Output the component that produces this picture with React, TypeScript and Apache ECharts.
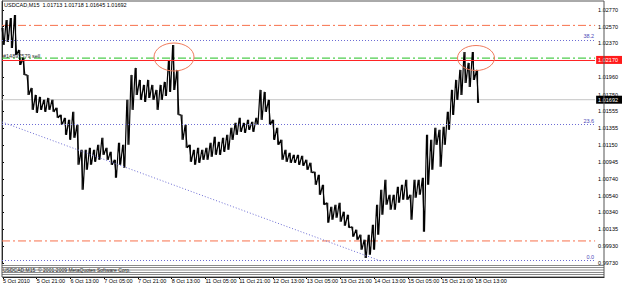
import React, { useEffect, useRef } from "react";
import * as echarts from "echarts";

// ---- data ----
const symbolTitle = "USDCAD,M15";
const lastBarOHLC = [1.01713, 1.01718, 1.01645, 1.01692];
const timeLabels = [
  "5 Oct 2010", "5 Oct 21:00", "6 Oct 13:00", "7 Oct 05:00", "7 Oct 21:00",
  "8 Oct 13:00", "11 Oct 05:00", "11 Oct 21:00", "12 Oct 13:00", "13 Oct 05:00",
  "13 Oct 21:00", "14 Oct 13:00", "15 Oct 05:00", "15 Oct 21:00", "18 Oct 13:00",
];
const barsPerLabel = 64; // M15 bars between time labels (16 h)
const barsPerSample = 8; // each high/low pair below covers 8 M15 bars
const highs = [
  1.02554, 1.0265, 1.02674, 1.0271, 1.0229, 1.02194, 1.0199, 1.01834, 1.0175, 1.01726,
  1.0169, 1.01714, 1.0169, 1.01594, 1.0151, 1.01474, 1.0145, 1.01546, 1.0139, 1.0109,
  1.0109, 1.01114, 1.0109, 1.0115, 1.01234, 1.01114, 1.01066, 1.0097, 1.01174, 1.0115,
  1.0169, 1.0199, 1.02074, 1.0193, 1.0187, 1.0193, 1.0187, 1.0181, 1.0187, 1.01906,
  1.0217, 1.0235, 1.0205, 1.0151, 1.0139, 1.0115, 1.0109, 1.01114, 1.0109, 1.01114,
  1.01174, 1.01246, 1.01186, 1.01234, 1.0127, 1.01354, 1.01414, 1.01474, 1.01414, 1.0145,
  1.01426, 1.01474, 1.0181, 1.01786, 1.0169, 1.0145, 1.01354, 1.0121, 1.0109, 1.01054,
  1.0103, 1.0103, 1.01018, 1.0097, 1.00934, 1.00826, 1.0079, 1.0067, 1.00454, 1.00406,
  1.0043, 1.00454, 1.00346, 1.0031, 1.00166, 1.0013, 1.0007, 1.0001, 1.0007, 1.0019,
  1.0043, 1.0061, 1.0073, 1.0055, 1.0055, 1.00646, 1.0067, 1.0073, 1.0055, 1.0073,
  1.0073, 1.00754, 1.0127, 1.0121, 1.01354, 1.0133, 1.01366, 1.01546, 1.0181, 1.0193,
  1.0205, 1.02266, 1.02134, 1.02266, 1.0205,
];
const lows = [
  1.0235, 1.02386, 1.02314, 1.0223, 1.0211, 1.0199, 1.0175, 1.0157, 1.01534, 1.0157,
  1.01546, 1.0157, 1.01546, 1.01474, 1.0139, 1.0127, 1.0121, 1.01234, 1.0091, 1.0061,
  1.0085, 1.0091, 1.00946, 1.0097, 1.0103, 1.0097, 1.0091, 1.00754, 1.0091, 1.00874,
  1.0115, 1.0157, 1.0175, 1.0169, 1.01666, 1.01714, 1.0169, 1.0157, 1.0169, 1.01738,
  1.01786, 1.0181, 1.0151, 1.0121, 1.01114, 1.00946, 1.0091, 1.00934, 1.0097, 1.0097,
  1.01006, 1.0103, 1.0103, 1.01066, 1.0109, 1.0121, 1.0127, 1.01306, 1.01294, 1.0133,
  1.01306, 1.0139, 1.0145, 1.01546, 1.0139, 1.0121, 1.0115, 1.0097, 1.00946, 1.00934,
  1.00934, 1.0091, 1.00898, 1.0085, 1.00814, 1.0067, 1.0055, 1.0043, 1.00214, 1.0025,
  1.00274, 1.00226, 1.00178, 1.00154, 1.00046, 1.0001, 0.9989, 0.9979, 0.9983, 0.9989,
  1.0007, 1.0031, 1.0043, 1.0037, 1.0037, 1.00454, 1.0049, 1.0049, 1.0025, 1.00514,
  1.0055, 1.00106, 1.0067, 1.0085, 1.0115, 1.00886, 1.0115, 1.0133, 1.0151, 1.0169,
  1.0175, 1.01894, 1.01846, 1.0193, 1.01654,
];
const priceTicks = [
  0.9973, 0.9993, 1.00135, 1.0034, 1.0054, 1.0074, 1.00945, 1.0115, 1.01355,
  1.01555, 1.0175, 1.0196, 1.0217, 1.0237, 1.0257, 1.0277,
];
const bidPrice = 1.01692;
const orderPrice = 1.0217;
const orderLabel = "#14897579 sell";
const stopLevel = 1.02192;
const dashDotLevels = [1.02585, 0.99995];
const fiboLow = 0.9976;
const fiboHigh = 1.0668;
const fiboLevels = [0.0, 23.6, 38.2];
const trendStart = [0, 1.01424];
const trendEnd = [728, 0.99754];
const yMin = 0.9973;
const yMax = 1.02878;
const xMax = 1140;

const FONT = "Liberation Sans";
const ORANGE = "#f7704c";

function markSeries(name: string, color: string, type: any, data: any[], z: number) {
  return {
    name,
    type: "line",
    xAxisIndex: 0,
    yAxisIndex: 0,
    data: [],
    itemStyle: { color },
    lineStyle: { color },
    symbol: "none",
    silent: true,
    z,
    markLine: {
      silent: true,
      symbol: "none",
      precision: 6,
      animation: false,
      lineStyle: { color, width: 1, type, opacity: 1 },
      label: { show: false },
      emphasis: { disabled: true },
      data,
    },
  };
}

function levelSeries(name: string, color: string, type: any, value: number, z: number) {
  return {
    name,
    type: "line",
    xAxisIndex: 0,
    yAxisIndex: 0,
    data: [
      [0, value],
      [xMax, value],
    ],
    symbol: "none",
    showSymbol: false,
    silent: true,
    z,
    itemStyle: { color },
    lineStyle: { color, width: 1, type },
  };
}

export default function App() {
  const ref = useRef<HTMLDivElement>(null);
  useEffect(() => {
    if (!ref.current) return;
    const chart = echarts.init(ref.current, null, { renderer: "svg" });

    const lineData: number[][] = [];
    highs.forEach((h, i) => {
      lineData.push([i * barsPerSample, h]);
      lineData.push([i * barsPerSample + barsPerSample / 2, lows[i]]);
    });
    const rangeData = highs.map((h, i) => [i * barsPerSample + barsPerSample / 4, lows[i], h]);

    const smallLabel = { fontSize: 5.5, fontFamily: FONT, distance: [1, 1] };
    const labelValues = priceTicks.concat([bidPrice]);
    const stripeYs = [265.5, 267.5, 270, 272.5, 274.5];

    chart.setOption({
      animation: false,
      backgroundColor: "#ffffff",
      textStyle: { fontFamily: FONT },
      grid: [
        { left: 2, top: 1, width: 602, height: 262, show: false },
        { left: 2, top: 263, width: 602, height: 14, show: false },
      ],
      xAxis: [
        { gridIndex: 0, type: "value", min: 0, max: xMax, show: false },
        {
          gridIndex: 1,
          type: "value",
          min: 0,
          max: xMax,
          axisLine: { show: true, lineStyle: { color: "#000", width: 1 } },
          axisTick: {
            show: true,
            length: 2,
            customValues: timeLabels.map((_, i) => i * barsPerLabel),
            lineStyle: { color: "#000" },
          },
          axisLabel: {
            customValues: timeLabels.map((_, i) => i * barsPerLabel),
            formatter: (v: number) => timeLabels[Math.round(v / barsPerLabel)] ?? "",
            align: "left",
            fontSize: 5.5,
            color: "#000",
            margin: 1,
            fontFamily: FONT,
          },
          splitLine: { show: false },
        },
      ],
      yAxis: [
        {
          gridIndex: 0,
          type: "value",
          position: "right",
          min: yMin,
          max: yMax,
          axisLine: { show: true, lineStyle: { color: "#000", width: 1 } },
          axisTick: { show: true, length: 2, customValues: priceTicks, lineStyle: { color: "#000" } },
          axisLabel: {
            customValues: labelValues,
            margin: 1,
            fontSize: 5.5,
            fontFamily: FONT,
            color: "#000",
            formatter: (v: number) => {
              const t = v.toFixed(5);
              if (Math.abs(v - orderPrice) < 1e-7) return `{red|${t}}`;
              if (Math.abs(v - bidPrice) < 1e-7) return `{bid|${t}}`;
              return `{n|${t}}`;
            },
            rich: {
              n: { fontSize: 5.5, fontFamily: FONT, color: "#000", padding: [0, 0, 0, 2] },
              red: { fontSize: 5.5, fontFamily: FONT, color: "#fff", backgroundColor: "#ff1a1a", padding: [1, 4, 1, 2] },
              bid: { fontSize: 5.5, fontFamily: FONT, color: "#fff", backgroundColor: "#000", padding: [1, 4, 1, 2] },
            },
          },
          splitLine: { show: false },
        },
        { gridIndex: 1, type: "value", min: 0, max: 1, show: false },
      ],
      series: [
        ...dashDotLevels.map((v, i) => levelSeries("level" + i, ORANGE, [8, 3, 2, 3], v, 2)),
        levelSeries("stop", "#22c022", [8, 3, 2, 3], stopLevel, 2),
        levelSeries("bid", "#c4c4c4", "solid", bidPrice, 2),
        markSeries("order", "#ff2424", "solid", [
          { yAxis: orderPrice, label: { show: true, position: "insideStartTop", formatter: orderLabel, color: "#303030", ...smallLabel } },
        ], 2),
        markSeries(
          "fibo",
          "#6c6cd4",
          [1, 2],
          fiboLevels.map((p) => ({
            yAxis: fiboLow + ((fiboHigh - fiboLow) * p) / 100,
            label: { show: true, position: "insideEndTop", formatter: p.toFixed(1), color: "#4a4ab8", ...smallLabel },
          })),
          2
        ),
        markSeries("trend", "#6c6cd4", [1, 2], [[{ coord: trendStart }, { coord: trendEnd }]], 2),
        {
          type: "custom",
          xAxisIndex: 0,
          yAxisIndex: 0,
          data: rangeData,
          z: 3,
          renderItem: (params: any, api: any) => {
            const top = api.coord([api.value(0), api.value(2)]);
            const bot = api.coord([api.value(0), api.value(1)]);
            const w = api.size([barsPerSample, 0])[0] * 0.28;
            return {
              type: "rect",
              shape: { x: top[0] - w / 2, y: top[1], width: w, height: Math.max(1, bot[1] - top[1]) },
              style: { fill: "#101010" },
            };
          },
        },
        {
          type: "line",
          xAxisIndex: 0,
          yAxisIndex: 0,
          data: lineData,
          showSymbol: false,
          symbol: "none",
          lineStyle: { color: "#000", width: 1.2 },
          z: 4,
        },
      ],
      graphic: [
        {
          type: "rect",
          shape: { x: 2, y: 1, width: 602, height: 276 },
          style: { fill: "none", stroke: "#555", lineWidth: 1 },
          silent: true,
          z: 1,
        },
        ...stripeYs.map((y) => ({
          type: "line",
          shape: { x1: 2, y1: y, x2: 604, y2: y },
          style: { stroke: "#8a8a8a", lineWidth: 1 },
          silent: true,
        })),
        {
          type: "text",
          x: 4,
          y: 2,
          style: {
            text: `${symbolTitle}  ${lastBarOHLC.map((v) => v.toFixed(5)).join(" ")}`,
            fill: "#000",
            fontSize: 5.5,
            fontFamily: FONT,
          },
          z: 10,
        },
        {
          type: "text",
          x: 3,
          y: 267.5,
          style: {
            text: `${symbolTitle}  \u00A9 2001-2009 MetaQuotes Software Corp.`,
            fill: "#222",
            fontSize: 5,
            fontFamily: FONT,
          },
          z: 10,
        },
        {
          type: "ellipse",
          shape: { cx: 174, cy: 57, rx: 20, ry: 14 },
          style: { fill: "none", stroke: "#f07a5c", lineWidth: 1 },
          z: 10,
        },
        {
          type: "ellipse",
          shape: { cx: 476, cy: 58, rx: 18.5, ry: 12.5 },
          style: { fill: "none", stroke: "#f07a5c", lineWidth: 1 },
          z: 10,
        },
      ],
    });
    return () => chart.dispose();
  }, []);
  return (
    <div
      ref={ref}
      style={{ position: "absolute", left: 0, top: 0, width: 625, height: 285, background: "#fff" }}
    />
  );
}
